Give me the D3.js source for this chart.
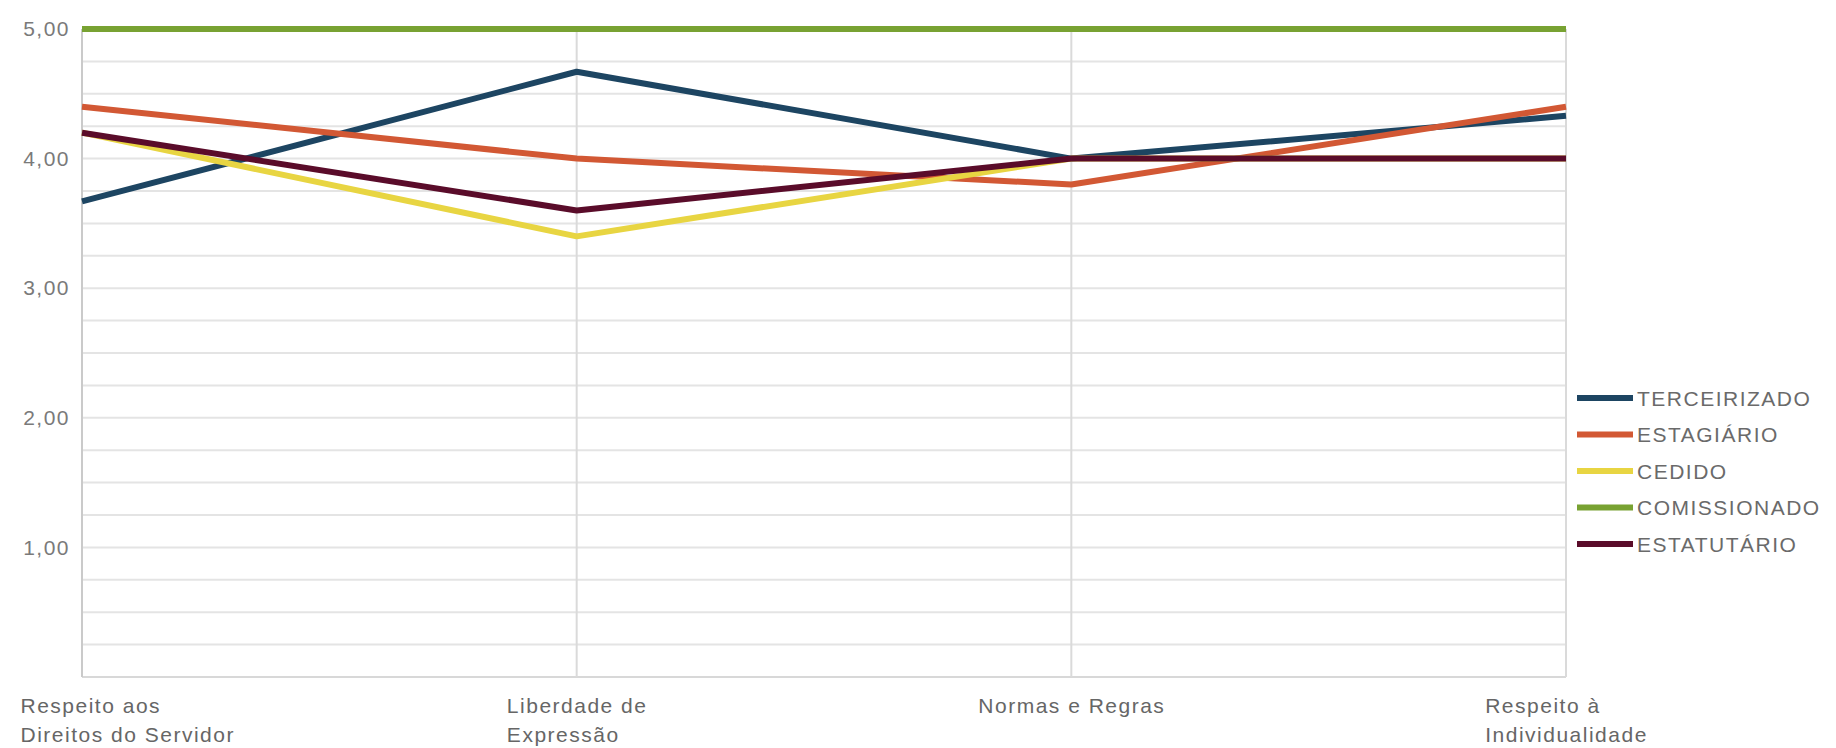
<!DOCTYPE html>
<html>
<head>
<meta charset="utf-8">
<script src="https://cdn.jsdelivr.net/npm/d3@7"></script>
<style>
  html, body { margin: 0; padding: 0; background: #fff; }
  svg { display: block; }
  text { font-family: "Liberation Sans", Arial, sans-serif; }
</style>
</head>
<body>
<svg id="chart" width="1836" height="748"></svg>
<script>
// Categories on the x axis (each label split into its two lines)
const categories = [
  "Respeito aos Direitos do Servidor",
  "Liberdade de Expressão",
  "Normas e Regras",
  "Respeito à Individualidade"
];
const categoryLines = [
  ["Respeito aos", "Direitos do Servidor"],
  ["Liberdade de", "Expressão"],
  ["Normas e Regras"],
  ["Respeito à", "Individualidade"]
];

// Average score per group, one value per category
const terceirizado = [3.67, 4.67, 4.00, 4.33];
const estagiario   = [4.40, 4.00, 3.80, 4.40];
const cedido       = [4.20, 3.40, 4.00, 4.00];
const comissionado = [5.00, 5.00, 5.00, 5.00];
const estatutario  = [4.20, 3.60, 4.00, 4.00];

const seriesNames  = ["TERCEIRIZADO", "ESTAGIÁRIO", "CEDIDO", "COMISSIONADO", "ESTATUTÁRIO"];
const seriesColors = ["#1d4562", "#d25834", "#e8d542", "#78a232", "#5a0c2a"];

// Labelled y ticks and the finer grid step
const yTicks = [1, 2, 3, 4, 5];
const yMax = 5;
const gridStep = 0.25;

const series = [terceirizado, estagiario, cedido, comissionado, estatutario].map((values, i) => ({
  name: seriesNames[i],
  color: seriesColors[i],
  values
}));

const W = 1836, H = 748;
const margin = { top: 29, right: 270, bottom: 71, left: 82 };
const plotW = W - margin.left - margin.right;
const plotH = H - margin.top - margin.bottom;

const svg = d3.select("#chart");
const g = svg.append("g").attr("transform", `translate(${margin.left},${margin.top})`);

const x = d3.scalePoint().domain(categories).range([0, plotW]);
const y = d3.scaleLinear().domain([0, yMax]).range([plotH, 0]);

const ptBR = d3.formatLocale({ decimal: ",", thousands: ".", grouping: [3], currency: ["R$", ""] });
const fmt = ptBR.format(".2f");

// Horizontal grid every quarter point
const gridValues = d3.range(0, yMax + gridStep / 2, gridStep);
g.append("g")
  .selectAll("line")
  .data(gridValues)
  .join("line")
  .attr("x1", 0).attr("x2", plotW)
  .attr("y1", d => y(d)).attr("y2", d => y(d))
  .attr("stroke", d => d === 0 ? "#d8d8d8" : "#e4e4e4")
  .attr("stroke-width", 2);

// Vertical grid at each category
g.append("g")
  .selectAll("line")
  .data(categories)
  .join("line")
  .attr("x1", d => x(d)).attr("x2", d => x(d))
  .attr("y1", 0).attr("y2", plotH)
  .attr("stroke", (d, i) => i === 0 ? "#cacaca" : "#dadada")
  .attr("stroke-width", 2);

// Y axis labels
const yAxis = g.append("g")
  .call(d3.axisLeft(y).tickValues(yTicks).tickFormat(fmt).tickSize(0).tickPadding(12));
yAxis.select(".domain").remove();
yAxis.selectAll("text")
  .attr("font-size", 21)
  .attr("letter-spacing", "1.5px")
  .attr("fill", "#7a7a7a");

// X axis labels: left-aligned lines, block centred on the category
const xAxis = g.append("g")
  .attr("transform", `translate(0,${plotH})`)
  .call(d3.axisBottom(x).tickSize(0).tickFormat(""));
xAxis.select(".domain").remove();
xAxis.selectAll(".tick").each(function (d, i) {
  const tick = d3.select(this);
  const t = tick.append("text")
    .attr("fill", "#666")
    .attr("font-size", 21)
    .attr("letter-spacing", "1.5px")
    .attr("text-anchor", "start");
  categoryLines[i].forEach((line, k) => {
    t.append("tspan").attr("x", 0).attr("y", 36 + k * 29).text(line);
  });
  const w = t.node().getBBox().width;
  let left = -w / 2;
  const absLeft = margin.left + x(d) + left;
  if (absLeft < 20) left += 20 - absLeft;
  t.selectAll("tspan").attr("x", left);
});

// Series lines
const line = d3.line()
  .x((v, i) => x(categories[i]))
  .y(v => y(v));

g.append("g")
  .selectAll("path")
  .data(series)
  .join("path")
  .attr("d", s => line(s.values))
  .attr("fill", "none")
  .attr("stroke", s => s.color)
  .attr("stroke-width", 6)
  .attr("stroke-linejoin", "round");

// Legend
const legend = svg.append("g").attr("transform", "translate(1577,398)");
const item = legend.selectAll("g")
  .data(series)
  .join("g")
  .attr("transform", (s, i) => `translate(0,${i * 36.5})`);
item.append("line")
  .attr("x1", 0).attr("x2", 56)
  .attr("y1", 0).attr("y2", 0)
  .attr("stroke", s => s.color)
  .attr("stroke-width", 6);
item.append("text")
  .attr("x", 60)
  .attr("y", 0)
  .attr("dy", "0.36em")
  .attr("font-size", 21)
  .attr("letter-spacing", "1.5px")
  .attr("fill", "#6a6a6a")
  .text(s => s.name);
</script>
</body>
</html>
